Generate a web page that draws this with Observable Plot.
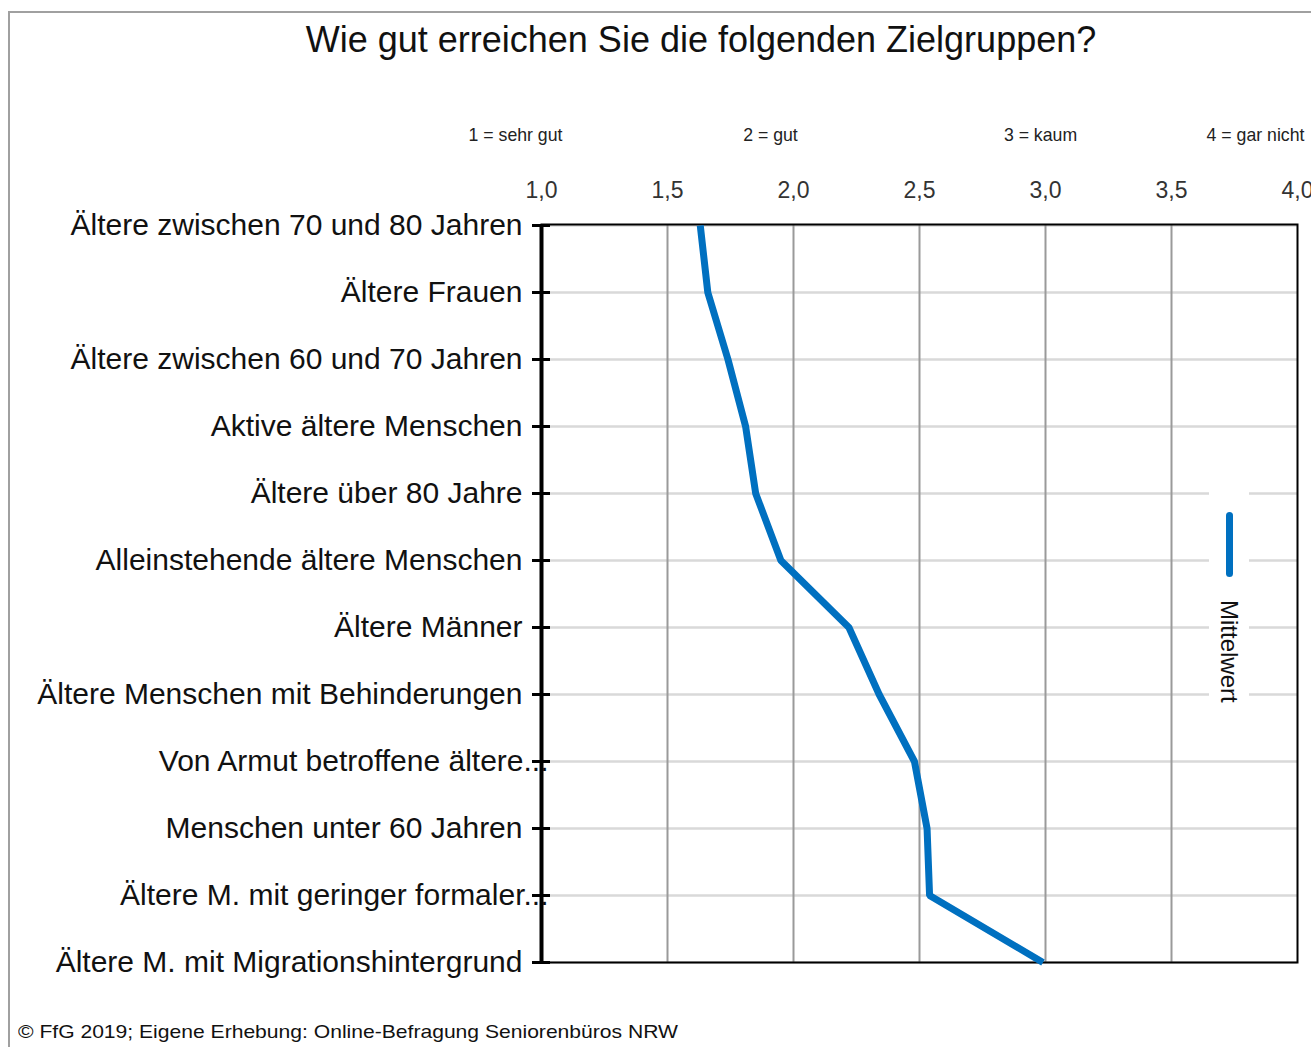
<!DOCTYPE html>
<html><head><meta charset="utf-8">
<script src="https://cdn.jsdelivr.net/npm/d3@7"></script>
<script src="https://cdn.jsdelivr.net/npm/@observablehq/plot@0.6"></script>
<style>
html,body{margin:0;padding:0;background:#fff;}
#wrap{position:relative;width:1311px;height:1047px;overflow:hidden;font-family:"Liberation Sans",Arial,sans-serif;color:#111;}
#border{position:absolute;left:8px;top:11px;width:1400px;height:1100px;border-left:2px solid #a0a0a0;border-top:2px solid #a0a0a0;}
#title{position:absolute;left:0;top:22px;width:1402px;text-align:center;font-size:36px;line-height:36px;}
#chart{position:absolute;left:0;top:90px;}
#caption{position:absolute;left:18px;top:1022px;font-size:19px;line-height:19px;transform:scaleX(1.11);transform-origin:left center;white-space:nowrap;}
#legend{position:absolute;left:1209px;top:487px;width:40px;height:225px;background:#fff;}
#legend .bar{position:absolute;left:16.5px;top:25px;width:7px;height:65px;border-radius:3.5px;background:#0070c0;}
#legend .lab{position:absolute;left:32px;top:113px;line-height:24px;font-size:24px;white-space:nowrap;transform-origin:0 0;transform:rotate(90deg);}
</style></head>
<body>
<div id="wrap">
  <div id="border"></div>
  <div id="title">Wie gut erreichen Sie die folgenden Zielgruppen?</div>
  <div id="chart"></div>
  <div id="legend"><div class="bar"></div><div class="lab">Mittelwert</div></div>
  <div id="caption">© FfG 2019; Eigene Erhebung: Online-Befragung Seniorenbüros NRW</div>
</div>
<script>
const categories = [
  "Ältere zwischen 70 und 80 Jahren",
  "Ältere Frauen",
  "Ältere zwischen 60 und 70 Jahren",
  "Aktive ältere Menschen",
  "Ältere über 80 Jahre",
  "Alleinstehende ältere Menschen",
  "Ältere Männer",
  "Ältere Menschen mit Behinderungen",
  "Von Armut betroffene ältere...",
  "Menschen unter 60 Jahren",
  "Ältere M. mit geringer formaler...",
  "Ältere M. mit Migrationshintergrund"
];
const meanValues = [1.63, 1.66, 1.74, 1.81, 1.85, 1.95, 2.22, 2.34, 2.48, 2.53, 2.54, 2.99];
const xTickValues = [1, 1.5, 2, 2.5, 3, 3.5, 4];
const scaleLabels = ["1 = sehr gut", "2 = gut", "3 = kaum", "4 = gar nicht"];
const scaleLabelAt = [1, 2, 3, 4];
const truncatedLabels = ["Von Armut betroffene ältere...", "Ältere M. mit geringer formaler..."];

const scaleLabelShift = [-26, -23, -5, -42];
const data = categories.map((c, i) => ({cat: c, value: meanValues[i]}));
const fmt = d => d.toFixed(1).replace(".", ",");
const font = '"Liberation Sans", Arial, sans-serif';

const chart = Plot.plot({
  width: 1311, height: 900,
  marginLeft: 541, marginRight: 14, marginTop: 134, marginBottom: 28,
  style: {fontFamily: font, color: "#111", background: "transparent", overflow: "visible"},
  x: {domain: [1, 4], label: null},
  y: {type: "point", domain: categories, padding: 0, label: null},
  marks: [
    Plot.ruleY(categories, {y: d => d, stroke: "#d9d9d9", strokeWidth: 2.5}),
    Plot.ruleX(xTickValues.filter(v => v > 1 && v < 4), {x: d => d, stroke: "#9a9a9a", strokeWidth: 2}),
    Plot.frame({stroke: "#000", strokeWidth: 2}),
    Plot.ruleX([1], {x: d => d, stroke: "#000", strokeWidth: 4}),
    Plot.axisY({tickSize: 18, dx: 9, tickFormat: () => "", strokeWidth: 3, stroke: "#000"}),
    Plot.text(categories.filter(c => !truncatedLabels.includes(c)), {y: d => d, text: d => d, frameAnchor: "left", textAnchor: "end", dx: -19, fontSize: 30, fill: "#111"}),
    Plot.text(categories.filter(c => truncatedLabels.includes(c)), {y: d => d, text: d => d, frameAnchor: "left", textAnchor: "end", dx: 7, fontSize: 30, fill: "#111"}),
    Plot.axisX({anchor: "top", ticks: xTickValues, tickSize: 0, tickPadding: 27, tickFormat: fmt, fontSize: 23, fill: "#333"}),
    ...scaleLabels.map((t, i) => Plot.text([t], {x: [scaleLabelAt[i]], text: d => d, frameAnchor: "top", lineAnchor: "bottom", dy: -84, dx: scaleLabelShift[i], fontSize: 17.7, fill: "#222"})),
    Plot.line(data, {x: "value", y: "cat", stroke: "#0070c0", strokeWidth: 7, strokeLinecap: "butt", strokeLinejoin: "miter"})
  ]
});
document.getElementById("chart").appendChild(chart);
</script>
</body></html>
